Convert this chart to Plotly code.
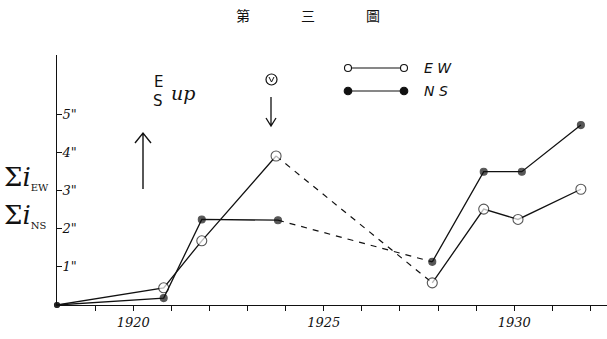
import plotly.graph_objects as go

# ---- data ----
years_ew = [1918, 1920.8, 1921.8, 1923.75, 1927.85, 1929.2, 1930.1, 1931.75]
ew_vals = [0, 0.45, 1.68, 3.9, 0.58, 2.51, 2.24, 3.03]
years_ns = [1918, 1920.8, 1921.8, 1923.8, 1927.85, 1929.2, 1930.2, 1931.75]
ns_vals = [0, 0.18, 2.24, 2.22, 1.13, 3.49, 3.49, 4.71]
gap_index = 3  # dashed segment between index 3 and 4

x_tick_vals = [1920, 1925, 1930]
x_tick_text = ["1920", "1925", "1930"]
y_tick_vals = [1, 2, 3, 4, 5]
y_tick_text = ['1"', '2"', '3"', '4"', '5"']

W, H = 607, 339
L, R, T, B = 57, 0, 55, 34
PW, PH = W - L - R, H - T - B


def px(xp):
    return (xp - L) / PW


def py(yp):
    return 1 - (yp - T) / PH


fig = go.Figure()
black = "#111111"

for xs, ys, filled in [(years_ew, ew_vals, False), (years_ns, ns_vals, True)]:
    g = gap_index
    fig.add_trace(go.Scatter(x=xs[:g + 1], y=ys[:g + 1], mode="lines",
                             line=dict(color=black, width=1.3), showlegend=False,
                             hoverinfo="skip", cliponaxis=False))
    fig.add_trace(go.Scatter(x=xs[g:g + 2], y=ys[g:g + 2], mode="lines",
                             line=dict(color=black, width=1.2, dash="6px,6px"),
                             showlegend=False, hoverinfo="skip", cliponaxis=False))
    fig.add_trace(go.Scatter(x=xs[g + 1:], y=ys[g + 1:], mode="lines",
                             line=dict(color=black, width=1.3), showlegend=False,
                             hoverinfo="skip", cliponaxis=False))
    sizes = [5] + [7 if filled else 10] * (len(xs) - 1)
    colors = [black] + [black if filled else "white"] * (len(xs) - 1)
    fig.add_trace(go.Scatter(x=xs, y=ys, mode="markers",
                             marker=dict(size=sizes, color=colors,
                                         line=dict(color=black, width=1.1)),
                             showlegend=False, cliponaxis=False))

shapes = []
annotations = []


def note(text, xp, yp, size, family, xanchor="center"):
    annotations.append(dict(text=text, x=px(xp), y=py(yp), xref="paper", yref="paper",
                            xanchor=xanchor, yanchor="middle", showarrow=False,
                            font=dict(size=size, color=black, family=family)))


# title
for ch, xp in [("第", 243), ("三", 308), ("圖", 373)]:
    note(ch, xp, 15, 14, "Noto Sans CJK TC")

# left labels
note("Σ<i>i</i><sub><span style='font-size:10px'>EW</span></sub>", 2, 177, 26,
     "DejaVu Serif", "left")
note("Σ<i>i</i><sub><span style='font-size:10px'>NS</span></sub>", 2, 215, 26,
     "DejaVu Serif", "left")

# up arrow with E/S up
shapes.append(dict(type="path", xref="paper", yref="paper",
                   path=f"M {px(143)},{py(189)} L {px(143)},{py(133)} "
                        f"M {px(135)},{py(143)} L {px(143)},{py(133)} L {px(151)},{py(143)}",
                   line=dict(color=black, width=1.4)))
note("E", 158, 82, 15, "DejaVu Sans")
note("S", 158, 101, 15, "DejaVu Sans")
note("<i>up</i>", 183, 93, 19, "DejaVu Serif")

# circled V and down arrow
shapes.append(dict(type="circle", xref="paper", yref="paper",
                   x0=px(266), x1=px(277), y0=py(74), y1=py(85),
                   line=dict(color=black, width=1.2)))
shapes.append(dict(type="path", xref="paper", yref="paper",
                   path=f"M {px(269)},{py(77)} L {px(271.5)},{py(82)} L {px(274)},{py(77)}",
                   line=dict(color=black, width=1)))
shapes.append(dict(type="path", xref="paper", yref="paper",
                   path=f"M {px(271)},{py(97)} L {px(271)},{py(126)} "
                        f"M {px(266)},{py(118)} L {px(271)},{py(126)} L {px(276)},{py(118)}",
                   line=dict(color=black, width=1.3)))

# custom legend
for yp, filled, label in [(68, False, "E W"), (91, True, "N S")]:
    shapes.append(dict(type="line", xref="paper", yref="paper",
                       x0=px(348), x1=px(404), y0=py(yp), y1=py(yp),
                       line=dict(color=black, width=1.2)))
    for xp in (348, 404):
        r = 3.5 if not filled else 3.8
        shapes.append(dict(type="circle", xref="paper", yref="paper",
                           x0=px(xp - r), x1=px(xp + r), y0=py(yp + r), y1=py(yp - r),
                           fillcolor=black if filled else "white",
                           line=dict(color=black, width=1.1)))
    note(f"<i>{label}</i>", 422, yp, 14, "DejaVu Sans", "left")

fig.update_layout(
    width=W, height=H, margin=dict(l=L, r=R, t=T, b=B),
    paper_bgcolor="white", plot_bgcolor="white",
    shapes=shapes, annotations=annotations, showlegend=False,
    xaxis=dict(range=[1918, 1918 + PW / 38.1], tickmode="array",
               tickvals=x_tick_vals, ticktext=x_tick_text,
               ticks="outside", ticklen=5, tickcolor=black, tickwidth=1.2,
               minor=dict(ticks="outside", ticklen=5, tickcolor=black, tickwidth=1.2,
                          tick0=1918, dtick=1, showgrid=False),
               showline=True, linecolor=black, linewidth=1.4, showgrid=False,
               zeroline=False,
               tickfont=dict(size=13, color=black, family="DejaVu Serif", style="italic")),
    yaxis=dict(range=[0, PH / 38.2], tickmode="array", tickvals=y_tick_vals,
               ticktext=y_tick_text, ticks="inside", ticklen=5, tickcolor=black,
               tickwidth=1.2, ticklabelposition="inside", showline=True,
               linecolor=black, linewidth=1.4, showgrid=False, zeroline=False,
               tickfont=dict(size=13, color=black, family="DejaVu Serif", style="italic")),
)

fig.write_html("out.html", config={"displayModeBar": False},
               post_script="document.body.style.margin='0';")
